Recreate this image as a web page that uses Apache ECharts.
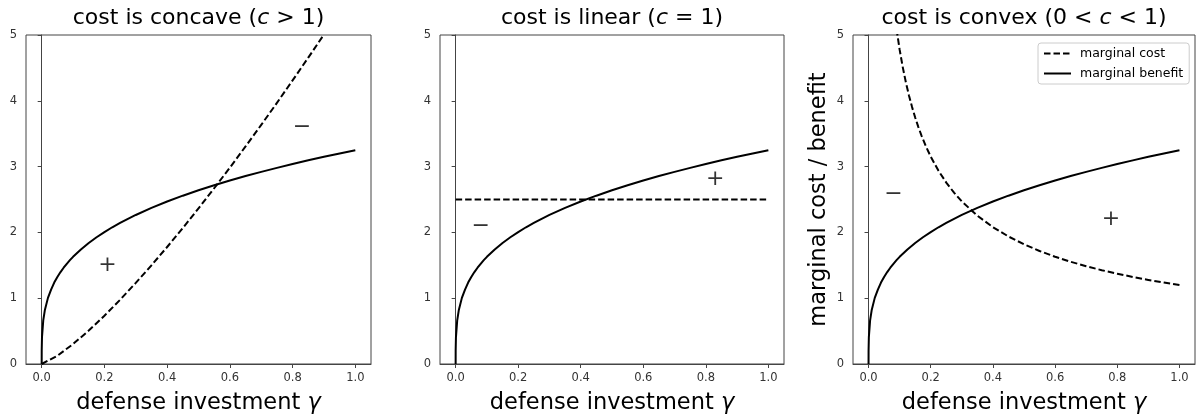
<!DOCTYPE html>
<html>
<head>
<meta charset="utf-8">
<script src="https://cdn.jsdelivr.net/npm/echarts@6/dist/echarts.min.js"></script>
<style>
html,body{margin:0;padding:0;background:#fff;}
#chart{width:1196px;height:420px;}
</style>
</head>
<body>
<div id="chart"></div>
<script>
// ---- data ----
const xTicks = [0.0, 0.2, 0.4, 0.6, 0.8, 1.0];
const yTicks = [0, 1, 2, 3, 4, 5];

const titlesPlain = ['cost is concave (', 'cost is linear (', 'cost is convex (0 < '];
const titlesMath  = ['c', 'c', 'c'];
const titlesTail  = [' > 1)', ' = 1)', ' < 1)'];

const xLabel = 'defense investment ';
const xLabelMath = 'γ';
const yLabel = 'marginal cost / benefit';
const legendNames = ['marginal cost', 'marginal benefit'];

// marginal benefit (same curve in all panels)
const benefitX = [0, 0.0001, 0.001, 0.005, 0.01, 0.02, 0.03, 0.04, 0.05, 0.06, 0.07, 0.08, 0.09, 0.1, 0.125, 0.15, 0.175, 0.2, 0.225, 0.25, 0.275, 0.3, 0.35, 0.4, 0.45, 0.5, 0.55, 0.6, 0.65, 0.7, 0.75, 0.8, 0.85, 0.9, 0.95, 1.0];
const benefitY = [0, 0.205, 0.409, 0.663, 0.816, 1.005, 1.131, 1.237, 1.323, 1.397, 1.463, 1.523, 1.578, 1.629, 1.741, 1.839, 1.926, 2.005, 2.078, 2.144, 2.207, 2.265, 2.372, 2.469, 2.558, 2.640, 2.716, 2.789, 2.856, 2.920, 2.981, 3.040, 3.095, 3.149, 3.200, 3.250];

// marginal cost, concave case
const concaveCostX = [0, 0.05, 0.1, 0.15, 0.2, 0.25, 0.3, 0.35, 0.4, 0.45, 0.5, 0.55, 0.6, 0.65, 0.7, 0.75, 0.8, 0.85, 0.9];
const concaveCostY = [0, 0.125, 0.303, 0.508, 0.734, 0.976, 1.232, 1.500, 1.778, 2.067, 2.365, 2.671, 2.984, 3.306, 3.634, 3.968, 4.310, 4.656, 5.008];

// marginal cost, linear case
const linearCostX = [0, 1.0];
const linearCostY = [2.5, 2.5];

// marginal cost, convex case
const convexCostX = [0.09, 0.1, 0.11, 0.12, 0.13, 0.14, 0.15, 0.16, 0.17, 0.185, 0.2, 0.225, 0.25, 0.275, 0.3, 0.35, 0.4, 0.45, 0.5, 0.55, 0.6, 0.65, 0.7, 0.75, 0.8, 0.85, 0.9, 0.95, 1.0];
const convexCostY = [5.09, 4.777, 4.512, 4.282, 4.081, 3.904, 3.746, 3.604, 3.475, 3.302, 3.152, 2.936, 2.757, 2.604, 2.471, 2.253, 2.080, 1.938, 1.819, 1.718, 1.630, 1.554, 1.486, 1.426, 1.372, 1.323, 1.278, 1.237, 1.200];

// +/- annotations
const signText = [['+', '−'], ['−', '+'], ['−', '+']];
const signX = [[0.21, 0.83], [0.08, 0.83], [0.08, 0.78]];
const signY = [[1.5, 3.6], [2.1, 2.8], [2.58, 2.2]];

const costX = [concaveCostX, linearCostX, convexCostX];
const costY = [concaveCostY, linearCostY, convexCostY];

// ---- layout ----
const FONT = 'DejaVu Sans';
const grids = [
  {left: 26, top: 35, width: 345, height: 329},
  {left: 440, top: 35, width: 344, height: 329},
  {left: 853, top: 35, width: 342, height: 329}
];
const zip = (xs, ys) => xs.map((x, i) => [x, ys[i]]);

const option = {
  animation: false,
  backgroundColor: '#fff',
  title: grids.map((g, i) => ({
    text: '{a|' + titlesPlain[i] + '}{i|' + titlesMath[i] + '}{a|' + titlesTail[i] + '}',
    left: g.left + g.width / 2,
    top: 7,
    textAlign: 'center',
    padding: 0,
    textStyle: {
      fontWeight: 'normal',
      rich: {
        a: {fontFamily: FONT, fontSize: 22, fontWeight: 'normal', color: '#000'},
        i: {fontFamily: FONT, fontSize: 22, fontWeight: 'normal', fontStyle: 'italic', color: '#000'}
      }
    }
  })),
  legend: {
    data: legendNames,
    orient: 'vertical',
    left: 1038,
    top: 43,
    padding: [4, 6, 4, 5],
    itemGap: 7,
    itemWidth: 27,
    itemHeight: 12,
    backgroundColor: 'rgba(255,255,255,0.8)',
    borderColor: '#ccc',
    borderWidth: 1,
    borderRadius: 3,
    itemStyle: {color: 'rgba(0,0,0,0)', borderColor: 'rgba(0,0,0,0)', borderWidth: 0},
    lineStyle: {color: '#000', width: 2},
    textStyle: {fontFamily: FONT, fontSize: 12.5, color: '#000', padding: [0, 0, 0, 4]}
  },
  grid: grids.map(g => Object.assign({show: true, borderColor: '#444', borderWidth: 1, backgroundColor: 'transparent'}, g)),
  xAxis: grids.map((g, i) => ({
    gridIndex: i,
    type: 'value',
    min: -0.05,
    max: 1.05,
    axisLine: {show: true, onZero: false, lineStyle: {color: '#444', width: 1}},
    axisTick: {show: true, length: 4, customValues: xTicks, lineStyle: {color: '#444'}},
    axisLabel: {customValues: xTicks, formatter: v => v.toFixed(1), fontFamily: FONT, fontSize: 11.5, color: '#333', margin: 8},
    splitLine: {show: false},
    name: '{a|' + xLabel + '}{i|' + xLabelMath + '}',
    nameLocation: 'middle',
    nameGap: 28,
    nameTextStyle: {
      rich: {
        a: {fontFamily: FONT, fontSize: 22.5, color: '#000'},
        i: {fontFamily: FONT, fontSize: 22.5, fontStyle: 'italic', color: '#000'}
      }
    }
  })),
  yAxis: grids.map((g, i) => ({
    gridIndex: i,
    type: 'value',
    min: yTicks[0],
    max: yTicks[yTicks.length - 1],
    interval: 1,
    axisLine: {show: true, lineStyle: {color: '#444', width: 1}},
    axisTick: {show: true, length: 4, lineStyle: {color: '#444'}},
    axisLabel: {fontFamily: FONT, fontSize: 11.5, color: '#333', margin: 9},
    splitLine: {show: false},
    name: i === 2 ? yLabel : '',
    nameLocation: 'middle',
    nameRotate: 90,
    nameGap: 22,
    nameTextStyle: {fontFamily: FONT, fontSize: 22.5, color: '#000'}
  })),
  series: []
};

for (let i = 0; i < 3; i++) {
  option.series.push({
    name: legendNames[0],
    type: 'line',
    xAxisIndex: i, yAxisIndex: i,
    data: zip(costX[i], costY[i]),
    symbol: 'none',
    clip: true,
    color: '#000',
    lineStyle: {color: '#000', width: 2, type: [6.5, 3], join: 'round'}
  });
  option.series.push({
    name: legendNames[1],
    type: 'line',
    xAxisIndex: i, yAxisIndex: i,
    data: zip(benefitX, benefitY),
    symbol: 'none',
    clip: true,
    color: '#000',
    lineStyle: {color: '#000', width: 2, type: 'solid', join: 'round'}
  });
  option.series.push({
    type: 'scatter',
    xAxisIndex: i, yAxisIndex: i,
    data: signX[i].map((x, k) => ({value: [x, signY[i][k]], name: signText[i][k]})),
    symbolSize: 1,
    itemStyle: {color: 'rgba(0,0,0,0)'},
    label: {show: true, position: 'inside', formatter: p => p.name, fontFamily: FONT, fontSize: 22, color: '#000'},
    silent: true
  });
}

const chart = echarts.init(document.getElementById('chart'));
chart.setOption(option);
</script>
</body>
</html>
